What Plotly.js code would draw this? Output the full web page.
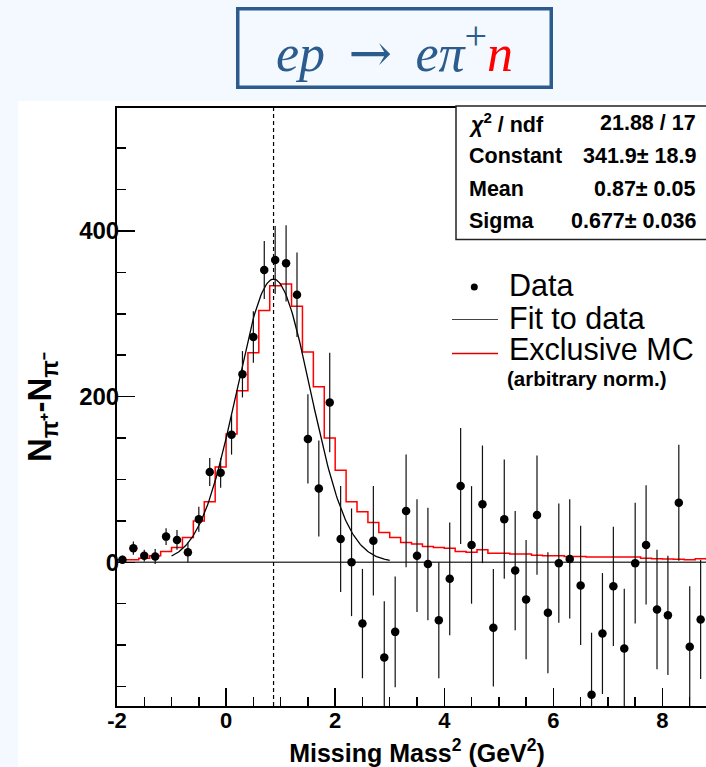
<!DOCTYPE html>
<html>
<head>
<meta charset="utf-8">
<script src="https://cdn.plot.ly/plotly-3.0.1.min.js"></script>
<style>
  html, body { margin: 0; padding: 0; width: 706px; height: 767px; overflow: hidden; background: #f3f9fe; }
  #frame { position: absolute; left: 0; top: 0; width: 706px; height: 767px; overflow: hidden; }
  #panel { position: absolute; left: 18px; top: 101px; right: 0; bottom: 0; background: #ffffff; }
  #chart { position: absolute; left: 0; top: 0; width: 720px; height: 767px; }
</style>
</head>
<body>
<div id="frame"><div id="panel"></div><div id="chart"></div></div>
<script>
// Missing mass squared spectrum, N(pi+) - N(pi-), for ep -> e pi+ n

// Data: bin centres (GeV^2), yields and statistical errors
const dataX = [-1.9, -1.7, -1.5, -1.3, -1.1, -0.9, -0.7, -0.5, -0.3, -0.1,
               0.1, 0.3, 0.5, 0.7, 0.9, 1.1, 1.3, 1.5, 1.7, 1.9,
               2.1, 2.3, 2.5, 2.7, 2.9, 3.1, 3.3, 3.5, 3.7, 3.9,
               4.1, 4.3, 4.5, 4.7, 4.9, 5.1, 5.3, 5.5, 5.7, 5.9,
               6.1, 6.3, 6.5, 6.7, 6.9, 7.1, 7.3, 7.5, 7.7, 7.9,
               8.1, 8.3, 8.5, 8.7];
const dataY = [3, 17, 8, 7, 31, 27, 12, 52, 109, 108,
               154, 227, 272, 353, 365, 361, 323, 149, 89, 193,
               28, 0, -74, 26, -115, -84, 62, 8, -2, -70,
               -20, 92, 21, 70, -79, 52, -10, -45, 57, -61,
               -1, 4, -28, -160, -86, -29, -104, -1, 21, -57,
               -64, 72, -102, -69];
const dataErr = [5, 8, 7, 9, 10, 12, 12, 15, 17, 18,
                 24, 28, 31, 35, 41, 46, 51, 54, 58, 60,
                 64, 65, 66, 66, 68, 67, 68, 68, 68, 70,
                 68, 70, 71, 71, 71, 72, 72, 72, 72, 73,
                 72, 72, 72, 75, 73, 72, 72, 73, 72, 72,
                 72, 70, 73, 72];

// Exclusive MC histogram (arbitrary normalisation): bin low edges and contents
const mcEdges = [-2.0, -1.8, -1.6, -1.4, -1.2, -1.0, -0.8, -0.6, -0.4, -0.2,
                 0.0, 0.2, 0.4, 0.6, 0.8, 1.0, 1.2, 1.4, 1.6, 1.8,
                 2.0, 2.2, 2.4, 2.6, 2.8, 3.0, 3.2, 3.4, 3.6, 3.8,
                 4.0, 4.2, 4.4, 4.6, 4.8, 5.0, 5.2, 5.4, 5.6, 5.8,
                 6.0, 6.2, 6.4, 6.6, 6.8, 7.0, 7.2, 7.4, 7.6, 7.8,
                 8.0, 8.2, 8.4, 8.6, 8.8, 9.0];
const mcCounts = [3, 3, 5, 8, 13, 18, 30, 50, 73, 115,
                  155, 207, 253, 304, 334, 336, 309, 254, 212, 150,
                  111, 73, 61, 48, 36, 30, 24, 22, 19, 18,
                  17, 13, 12, 15, 11, 11, 10, 10, 8.5, 8,
                  8, 7, 7, 6.5, 6.5, 6.5, 6.5, 6.5, 4.8, 4.4,
                  4, 3.6, 3.2, 4.4, 4];

// Gaussian fit result
const FIT_CHI2 = 21.88, FIT_NDF = 17;
const FIT_CONSTANT = 341.9, FIT_CONSTANT_ERR = 18.9;
const FIT_MEAN = 0.87, FIT_MEAN_ERR = 0.05;
const FIT_SIGMA = 0.677, FIT_SIGMA_ERR = 0.036;
const FIT_RANGE = [-1.0, 3.0];

// Axis ranges and ticks
const X_RANGE = [-2, 9];
const Y_RANGE = [-173.5, 548.5];
const xTicks = [-2, 0, 2, 4, 6, 8];
const yTicks = [0, 200, 400];

// ---- page geometry (pixels) ----
const W = 720, H = 767, ML = 117, MR = 3, MT = 108, MB = 61;
const PW = W - ML - MR, PH = H - MT - MB;
const px = x => (x - ML) / PW;          // pixel x -> paper x
const py = y => (H - MB - y) / PH;      // pixel y -> paper y

const SANS = 'Liberation Sans, Arial, Helvetica, sans-serif';
const SERIF = 'Liberation Serif, Times New Roman, serif';
const TITLE_BLUE = '#2c5b8d';

// Step outline of the MC histogram
const mcX = mcEdges.slice();
const mcY = mcCounts.concat([mcCounts[mcCounts.length - 1]]);

// Fit curve sampled over the fit range
const fitX = [], fitY = [];
for (let x = FIT_RANGE[0]; x <= FIT_RANGE[1] + 1e-9; x += 0.02) {
  fitX.push(x);
  fitY.push(FIT_CONSTANT * Math.exp(-0.5 * Math.pow((x - FIT_MEAN) / FIT_SIGMA, 2)));
}

const traces = [
  {
    type: 'scatter', mode: 'lines', x: mcX, y: mcY,
    line: { color: '#ff0000', width: 1.5, shape: 'hv' }, hoverinfo: 'skip'
  },
  {
    type: 'scatter', mode: 'lines', x: fitX, y: fitY,
    line: { color: '#000000', width: 1.3 }, hoverinfo: 'skip'
  },
  {
    type: 'scatter', mode: 'markers', x: dataX, y: dataY,
    marker: { color: '#000000', size: 8.5 },
    error_y: { type: 'data', array: dataErr, visible: true, color: '#111111', thickness: 1.2, width: 0 }
  }
];

// Statistics box
const statLabels = ['<i>χ</i><sup>2</sup> / ndf', 'Constant', 'Mean', 'Sigma'];
const statValues = [
  FIT_CHI2.toFixed(2) + ' / ' + FIT_NDF,
  FIT_CONSTANT.toFixed(1) + '± ' + FIT_CONSTANT_ERR.toFixed(1),
  FIT_MEAN.toFixed(2) + '± ' + FIT_MEAN_ERR.toFixed(2),
  FIT_SIGMA.toFixed(3) + '± ' + FIT_SIGMA_ERR.toFixed(3)
];
const statRowY = [122.5, 155.5, 188.8, 220.5];

const annotations = [];
statLabels.forEach((t, i) => {
  annotations.push({
    xref: 'paper', yref: 'paper', x: px(467), y: py(statRowY[i]),
    xanchor: 'left', yanchor: 'middle', showarrow: false, text: t,
    font: { family: SANS, size: 21.5, color: '#000', weight: 'bold' }
  });
  annotations.push({
    xref: 'paper', yref: 'paper', x: px(698), y: py(statRowY[i]),
    xanchor: 'right', yanchor: 'middle', showarrow: false, text: statValues[i],
    font: { family: SANS, size: 21.5, color: '#000', weight: 'bold' }
  });
});

// Legend entries
const legendEntries = [
  { text: 'Data', y: 285 },
  { text: 'Fit to data', y: 318 },
  { text: 'Exclusive MC', y: 348.5 }
];
legendEntries.forEach(e => {
  annotations.push({
    xref: 'paper', yref: 'paper', x: px(507), y: py(e.y),
    xanchor: 'left', yanchor: 'middle', showarrow: false, text: e.text,
    font: { family: SANS, size: 30.5, color: '#000' }
  });
});
annotations.push({
  xref: 'paper', yref: 'paper', x: px(505), y: py(378),
  xanchor: 'left', yanchor: 'middle', showarrow: false, text: '(arbitrary norm.)',
  font: { family: SANS, size: 20.5, color: '#000', weight: 'bold' }
});

// Reaction label in a framed box above the plot
annotations.push({
  xref: 'paper', yref: 'paper', x: px(394), y: py(47.5),
  xanchor: 'center', yanchor: 'middle', showarrow: false,
  width: 310, height: 75, borderpad: 0, borderwidth: 3.5, bordercolor: TITLE_BLUE,
  text: '<i>ep</i>\u00a0\u2009<span style="font-family:DejaVu Serif">→</span>\u2009\u00a0<i>eπ</i>' +
        '<sup><span style="font-size:40px">+</span></sup><i><span style="color:#ff0000">n</span></i>',
  font: { family: SERIF, size: 52, color: TITLE_BLUE }
});

const shapes = [
  // zero line
  { type: 'line', xref: 'paper', yref: 'y', x0: 0, x1: 1, y0: 0, y1: 0,
    line: { color: '#444', width: 1.5 }, layer: 'below' },
  // fitted mean
  { type: 'line', xref: 'x', yref: 'paper', x0: FIT_MEAN, x1: FIT_MEAN, y0: 0, y1: 1,
    line: { color: '#000', width: 1.2, dash: '4px,3px' } },
  // statistics box
  { type: 'rect', xref: 'paper', yref: 'paper', x0: px(456), x1: px(716), y0: py(106), y1: py(239.5),
    fillcolor: '#ffffff', line: { color: '#222', width: 1.5 }, layer: 'above' },
  // legend: data marker
  { type: 'circle', xref: 'paper', yref: 'paper', x0: px(470.8), x1: px(477.8), y0: py(283.5), y1: py(290.5),
    fillcolor: '#000', line: { color: '#000', width: 0 } },
  // legend: fit line
  { type: 'line', xref: 'paper', yref: 'paper', x0: px(452), x1: px(498), y0: py(319.5), y1: py(319.5),
    line: { color: '#444', width: 1.2 } },
  // legend: MC line
  { type: 'line', xref: 'paper', yref: 'paper', x0: px(452), x1: px(498), y0: py(353.5), y1: py(353.5),
    line: { color: '#e00000', width: 1.3 } }
];

const layout = {
  width: W, height: H,
  margin: { l: ML, r: MR, t: MT, b: MB, pad: 0 },
  paper_bgcolor: 'rgba(0,0,0,0)', plot_bgcolor: 'rgba(0,0,0,0)',
  showlegend: false,
  font: { family: SANS, color: '#000' },
  xaxis: {
    range: X_RANGE, tickmode: 'array', tickvals: xTicks, ticktext: xTicks.map(String),
    ticks: 'inside', ticklen: 18, tickwidth: 1.5, tickcolor: '#000',
    minor: { dtick: 0.5, tick0: 0, ticks: 'inside', ticklen: 9, tickwidth: 1.5, tickcolor: '#000', showgrid: false },
    showline: true, linewidth: 2, linecolor: '#000', mirror: true,
    showgrid: false, zeroline: false, ticklabelstandoff: -6,
    tickfont: { family: SANS, size: 22, weight: 'bold', color: '#000' },
    title: { text: 'Missing Mass<sup>2</sup> (GeV<sup>2</sup>)', standoff: 19,
             font: { family: SANS, size: 25, weight: 'bold', color: '#000' } }
  },
  yaxis: {
    range: Y_RANGE, tickmode: 'array', tickvals: yTicks, ticktext: yTicks.map(String),
    ticks: 'inside', ticklen: 18, tickwidth: 1.5, tickcolor: '#000',
    minor: { dtick: 50, tick0: 0, ticks: 'inside', ticklen: 9, tickwidth: 1.5, tickcolor: '#000', showgrid: false },
    showline: true, linewidth: 2, linecolor: '#000', mirror: false,
    showgrid: false, zeroline: false, ticklabelstandoff: -9,
    tickfont: { family: SANS, size: 24, weight: 'bold', color: '#000' },
    title: { text: 'N<sub>π⁺</sub>-N<sub>π⁻</sub>', standoff: 18,
             font: { family: SANS, size: 33, weight: 'bold', color: '#000' } }
  },
  shapes: shapes,
  annotations: annotations
};

Plotly.newPlot('chart', traces, layout, { staticPlot: true, displayModeBar: false });
</script>
</body>
</html>
